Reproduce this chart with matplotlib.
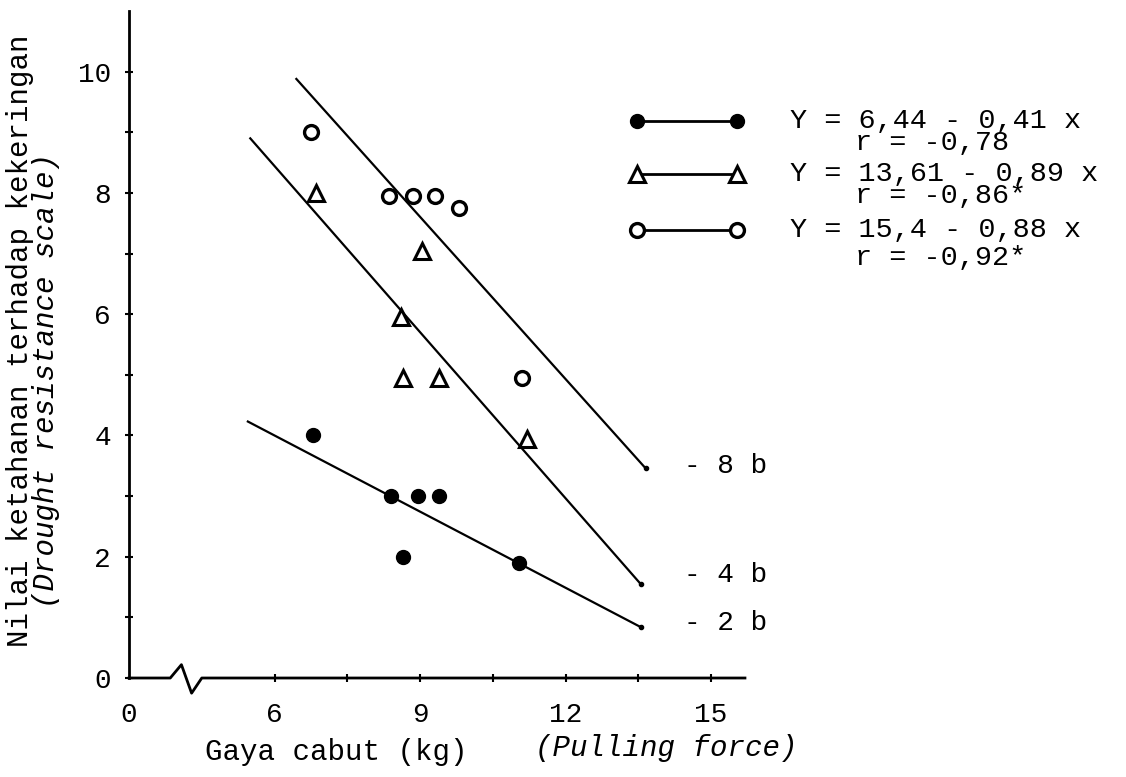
import matplotlib.pyplot as plt
import numpy as np

plt.rcParams['font.family'] = ['Liberation Mono', 'DejaVu Sans Mono']

# gaya cabut (kg) vs nilai ketahanan, per treatment
x_2b = [6.8, 8.4, 8.95, 9.4, 8.65, 11.05]
y_2b = [4.0, 3.0, 3.0, 3.0, 2.0, 1.9]
x_4b = [6.85, 9.05, 8.6, 8.65, 9.4, 11.2]
y_4b = [8.0, 7.05, 5.95, 4.95, 4.95, 3.95]
x_8b = [6.75, 8.35, 8.85, 9.3, 9.8, 11.1]
y_8b = [9.0, 7.95, 7.95, 7.95, 7.75, 4.95]

# regression lines, end points
fit_x = [[5.45, 13.55], [5.5, 13.55], [6.45, 13.65]]
fit_y = [[4.23, 0.84], [8.9, 1.55], [9.88, 3.46]]
line_names = ['- 2 b', '- 4 b', '- 8 b']
name_y = [0.9, 1.7, 3.5]

eq_texts = ['Y = 6,44 - 0,41 x', 'Y = 13,61 - 0,89 x', 'Y = 15,4 - 0,88 x']
r_texts = ['r = -0,78', 'r = -0,86*', 'r = -0,92*']

xtick_pos = [3, 6, 9, 12, 15]
xtick_labels = ['0', '6', '9', '12', '15']
yticks = [0, 2, 4, 6, 8, 10]

fig = plt.figure(figsize=(11.26, 7.77), dpi=100)
ax = fig.add_axes([0.1146, 0.1274, 0.547, 0.8584])

styles = [dict(marker='o', ms=10, mfc='black', mec='black'),
          dict(marker='^', ms=12, mfc='white', mec='black', mew=2.2),
          dict(marker='o', ms=10, mfc='white', mec='black', mew=2.4)]
xs = [x_2b, x_4b, x_8b]
ys = [y_2b, y_4b, y_8b]

for i in range(3):
    ax.plot(fit_x[i], fit_y[i], color='black', lw=1.6)
    ax.plot(fit_x[i][1], fit_y[i][1], 'o', color='black', ms=3)
    ax.plot(xs[i], ys[i], ls='none', **styles[i])
    ax.text(14.45, name_y[i], line_names[i], fontsize=20, va='center')

ax.set_xlim(3, 15.7)
ax.set_ylim(0, 11)
for s in ['top', 'right', 'bottom']:
    ax.spines[s].set_visible(False)
ax.spines['left'].set_linewidth(2)

# x axis with a break near the origin
ax.plot([3, 3.85, 4.08, 4.29, 4.5, 15.7], [0, 0, 0.22, -0.25, 0, 0],
        color='black', lw=2, clip_on=False)

ax.set_xticks(xtick_pos)
ax.set_xticklabels(xtick_labels)
ax.set_xticks([7.5, 10.5, 13.5], minor=True)
ax.set_yticks(yticks)
ax.set_yticks([1, 3, 5, 7, 9], minor=True)
ax.tick_params(axis='both', which='both', direction='inout', length=6, width=1.5)
ax.tick_params(axis='x', which='major', pad=14, labelsize=20)
ax.tick_params(axis='y', which='major', pad=10, labelsize=20)
ax.xaxis.get_major_ticks()[0].tick1line.set_visible(False)

fig.text(336 / 1126, 1 - 752 / 777, 'Gaya cabut (kg)', fontsize=21,
         ha='center', va='center')
fig.text(666 / 1126, 1 - 748 / 777, '(Pulling force)', fontsize=21,
         style='italic', ha='center', va='center')
fig.text(20 / 1126, 1 - 341 / 777, 'Nilai ketahanan terhadap kekeringan',
         fontsize=21, rotation=90, ha='center', va='center')
fig.text(46 / 1126, 1 - 380 / 777, '(Drought resistance scale)',
         fontsize=21, style='italic', rotation=90, ha='center', va='center')

# legend drawn by hand as in the original
row_y = [1 - 121 / 777, 1 - 174 / 777, 1 - 230 / 777]
r_gap = [0.028, 0.028, 0.036]
for i in range(3):
    yy = row_y[i]
    fig.add_artist(plt.Line2D([0.566, 0.6545], [yy, yy], color='black',
                              lw=2, transform=fig.transFigure, **styles[i]))
    fig.text(0.702, yy, eq_texts[i], fontsize=20.5, va='center')
    fig.text(0.759, yy - r_gap[i], r_texts[i], fontsize=20.5, va='center')

fig.savefig('out.png', dpi=100)
